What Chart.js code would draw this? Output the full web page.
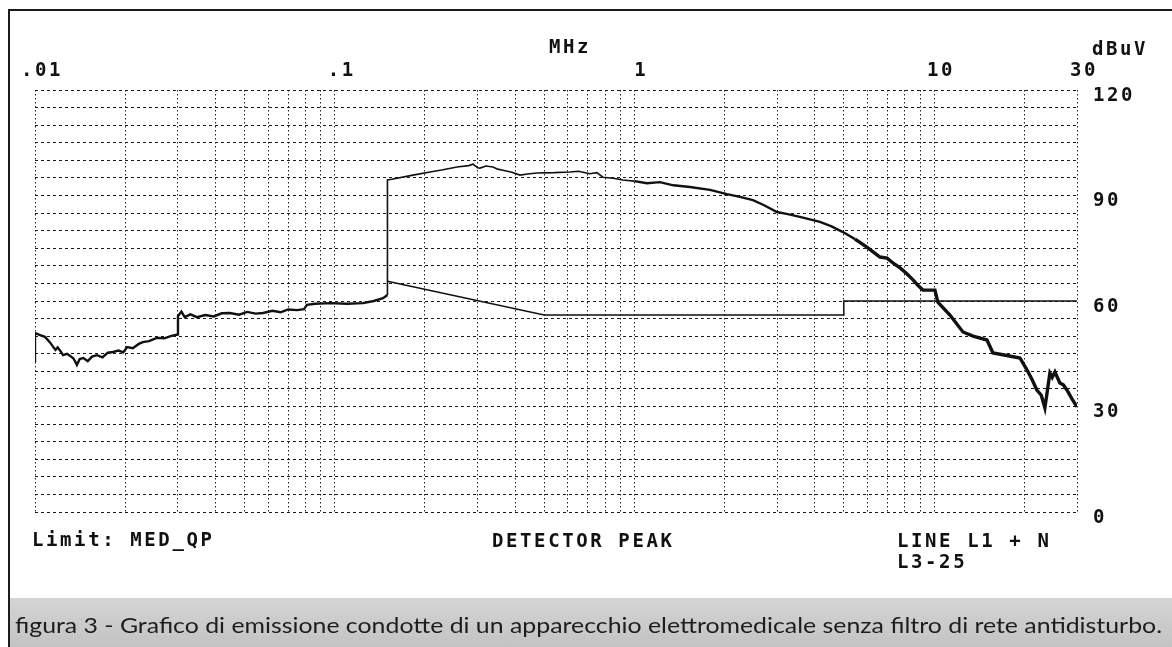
<!DOCTYPE html>
<html>
<head>
<meta charset="utf-8">
<title>Emissione condotta</title>
<script src="https://cdn.jsdelivr.net/npm/chart.js"></script>
<style>
  html, body { margin: 0; padding: 0; background: #fff; }
  #page { position: relative; width: 1172px; height: 647px; overflow: hidden; background: #fff; }
  #chart { position: absolute; left: 0; top: 0; }
  .frame-top { position: absolute; left: 8px; top: 9px; width: 1164px; height: 2px; background: #1c1c1c; }
  .frame-left { position: absolute; left: 8px; top: 9px; width: 2px; height: 638px; background: #1c1c1c; }
  .band { position: absolute; left: 10px; top: 598px; right: 0; height: 49px; background: linear-gradient(#d4d4d4, #c3c3c3); }
  .mono { position: absolute; font: bold 19px "DejaVu Sans Mono", monospace; letter-spacing: 2.6px;
          color: #111; line-height: 20px; white-space: pre; }
  .caption { position: absolute; left: 15px; top: 613px; font: 22px Lato, sans-serif; color: #1d1d1d;
             line-height: 24px; white-space: nowrap; transform-origin: 0 0; }
</style>
</head>
<body>
<div id="page">
  <div class="band"></div>
  <canvas id="chart" width="1172" height="647"></canvas>
  <div class="frame-top"></div>
  <div class="frame-left"></div>
  <div class="mono" style="left:549px; top:36px;">MHz</div>
  <div class="mono" style="left:1092px; top:38px;">dBuV</div>
  <div class="mono" style="left:32px; top:529px;">Limit: MED_QP</div>
  <div class="mono" style="left:492px; top:530px;">DETECTOR PEAK</div>
  <div class="mono" style="left:897px; top:530px;">LINE L1 + N</div>
  <div class="mono" style="left:897px; top:551px;">L3-25</div>
  <div class="caption" id="caption">figura 3 - Grafico di emissione condotte di un apparecchio elettromedicale senza filtro di rete antidisturbo.</div>
</div>
<script>
// frequency grid (MHz) and the decades that carry a label
const xGridValues = [0.01, 0.02, 0.03, 0.04, 0.05, 0.06, 0.07, 0.08, 0.09,
                     0.1, 0.2, 0.3, 0.4, 0.5, 0.6, 0.7, 0.8, 0.9,
                     1, 2, 3, 4, 5, 6, 7, 8, 9,
                     10, 20, 30];
const xLabelValues = [0.01, 0.1, 1, 10, 30];
const xLabelTexts = ['.01', '.1', '1', '10', '30'];
const yLabelValues = [0, 30, 60, 90, 120];

// limit line MED_QP (dBuV)
const limitFreq = [0.15, 0.5, 5, 5, 30];
const limitLevel = [65.6, 56, 56, 60, 60];

// peak detector sweep, L1 + N
const traceFreq = [
  0.0100, 0.0100, 0.0104, 0.0108, 0.0112, 0.0117, 0.0119, 0.0122, 0.0124, 0.0128,
  0.0134, 0.0136, 0.0138, 0.0141, 0.0145, 0.0150, 0.0155, 0.0161, 0.0168, 0.0175,
  0.0182, 0.0190, 0.0197, 0.0203, 0.0212, 0.0222, 0.0229, 0.0240, 0.0255, 0.0270,
  0.0285, 0.0300, 0.0300,
  0.0308, 0.0316, 0.0330, 0.0347, 0.0370, 0.0395, 0.0420, 0.0447, 0.0480, 0.0510,
  0.0545, 0.0577, 0.0620, 0.0660, 0.0700, 0.0749, 0.0790, 0.0808, 0.0860, 0.0965,
  0.1100, 0.1243, 0.1350, 0.1450, 0.1500, 0.1500,
  0.1550, 0.1825, 0.2080, 0.2300, 0.2559, 0.2800, 0.2894, 0.3000, 0.3053, 0.3200,
  0.3374, 0.3500, 0.3644, 0.3900, 0.4153, 0.4400, 0.4732, 0.5400, 0.6095, 0.6500,
  0.7110, 0.7500, 0.7850, 0.8500, 0.9160, 1.0000, 1.1020, 1.2170, 1.3500, 1.5330,
  1.7880, 2.0370, 2.2500, 2.4870, 2.7000, 2.9920, 3.2500, 3.5690, 4.1620, 4.5500,
  4.9660, 5.4500, 5.9700, 6.6000, 6.9700, 7.3500, 7.7000, 8.1000, 8.5100, 8.8500,
  9.1800, 10.070, 10.300, 11.300, 12.490, 13.500, 15.020, 15.730, 17.500, 19.350,
  20.420, 21.200, 22.040, 22.800, 23.440, 24.360, 24.800, 25.320, 26.300, 27.000,
  27.760, 28.800, 30.000
];
const traceLevel = [
  42.6, 50.9, 50.3, 49.8, 48.3, 46.1, 46.8, 45.6, 44.6, 45.0,
  43.8, 42.9, 41.8, 43.5, 43.8, 42.9, 44.2, 44.6, 44.0, 45.3,
  45.5, 45.9, 45.4, 46.9, 46.6, 47.8, 48.3, 48.6, 49.5, 49.4,
  50.1, 50.5, 55.7,
  57.0, 55.4, 56.2, 55.4, 56.0, 55.6, 56.5, 56.6, 56.1, 56.9,
  56.4, 56.6, 57.2, 56.8, 57.6, 57.4, 57.7, 58.9, 59.2, 59.4,
  59.2, 59.4, 60.0, 60.8, 61.7, 94.4,
  94.6, 95.8, 96.7, 97.3, 98.1, 98.5, 98.9, 97.9, 97.8, 98.4,
  98.1, 97.5, 97.2, 96.6, 95.8, 96.1, 96.4, 96.5, 96.7, 96.9,
  96.2, 96.5, 95.2, 94.9, 94.4, 94.1, 93.5, 93.8, 92.9, 92.4,
  91.6, 90.4, 89.6, 88.7, 87.3, 85.3, 84.7, 83.9, 82.5, 81.2,
  79.6, 77.6, 75.3, 72.5, 72.2, 70.6, 69.4, 67.8, 66.0, 64.4,
  63.1, 63.1, 59.7, 56.0, 51.2, 50.0, 48.9, 45.2, 44.5, 43.8,
  40.4, 37.8, 34.7, 33.2, 29.6, 39.5, 38.3, 39.8, 36.7, 36.2,
  34.7, 32.3, 29.9
];

const toPoints = (xs, ys) => xs.map((x, i) => ({ x: x, y: ys[i] }));

// plotter lettering is wide-spaced
const plotterText = {
  id: 'plotterText',
  beforeDraw(chart) { chart.ctx.letterSpacing = '2.6px'; },
  afterDraw(chart) { chart.ctx.letterSpacing = '0px'; }
};

const plotFont = { family: '"DejaVu Sans Mono", monospace', size: 19, weight: 'bold' };

// noisy parts of the sweep print heavier
function traceWidth(ctx) {
  const f = ctx.p0.parsed.x;
  if (f < 0.15) return 2.4;
  if (f < 1) return 1.6;
  if (f < 5) return 2.4;
  return 3.4;
}

new Chart(document.getElementById('chart'), {
  type: 'line',
  data: {
    datasets: [
      {
        label: 'LINE L1 + N',
        data: toPoints(traceFreq, traceLevel),
        borderColor: '#111',
        borderWidth: 2,
        pointRadius: 0,
        tension: 0,
        segment: { borderWidth: traceWidth }
      },
      {
        label: 'MED_QP',
        data: toPoints(limitFreq, limitLevel),
        borderColor: '#111',
        borderWidth: 1.5,
        pointRadius: 0,
        tension: 0
      }
    ]
  },
  options: {
    responsive: false,
    animation: false,
    devicePixelRatio: 1,
    layout: { padding: { left: 35, right: 0, top: 0, bottom: 135 } },
    plugins: { legend: { display: false }, tooltip: { enabled: false } },
    scales: {
      x: {
        type: 'logarithmic',
        position: 'top',
        min: 0.01,
        max: 30,
        afterBuildTicks(scale) { scale.ticks = xGridValues.map(v => ({ value: v })); },
        afterFit(scale) { scale.height = 90; },
        ticks: {
          autoSkip: false,
          maxRotation: 0,
          padding: 8,
          labelOffset: 7,
          color: '#111',
          font: plotFont,
          callback(value) {
            const i = xLabelValues.indexOf(value);
            return i >= 0 ? xLabelTexts[i] : '';
          }
        },
        grid: { color: '#222', lineWidth: 1, drawTicks: false },
        border: { display: false, dash: [1.5, 2.5] }
      },
      y: {
        type: 'linear',
        position: 'right',
        min: 0,
        max: 120,
        afterFit(scale) { scale.width = 95; },
        ticks: {
          stepSize: 5,
          autoSkip: false,
          padding: 16,
          labelOffset: 6,
          color: '#111',
          font: plotFont,
          callback(value) { return yLabelValues.includes(value) ? String(value) : ''; }
        },
        grid: { color: '#1a1a1a', lineWidth: 1, drawTicks: false },
        border: { display: false, dash: [3, 3] }
      }
    }
  },
  plugins: [plotterText]
});

// stretch the caption across the band
function fitCaption() {
  const el = document.getElementById('caption');
  el.style.transform = 'none';
  const w = el.getBoundingClientRect().width;
  el.style.transform = 'scaleX(' + (1147 / w) + ')';
}
fitCaption();
if (document.fonts) document.fonts.ready.then(fitCaption);
</script>
</body>
</html>
